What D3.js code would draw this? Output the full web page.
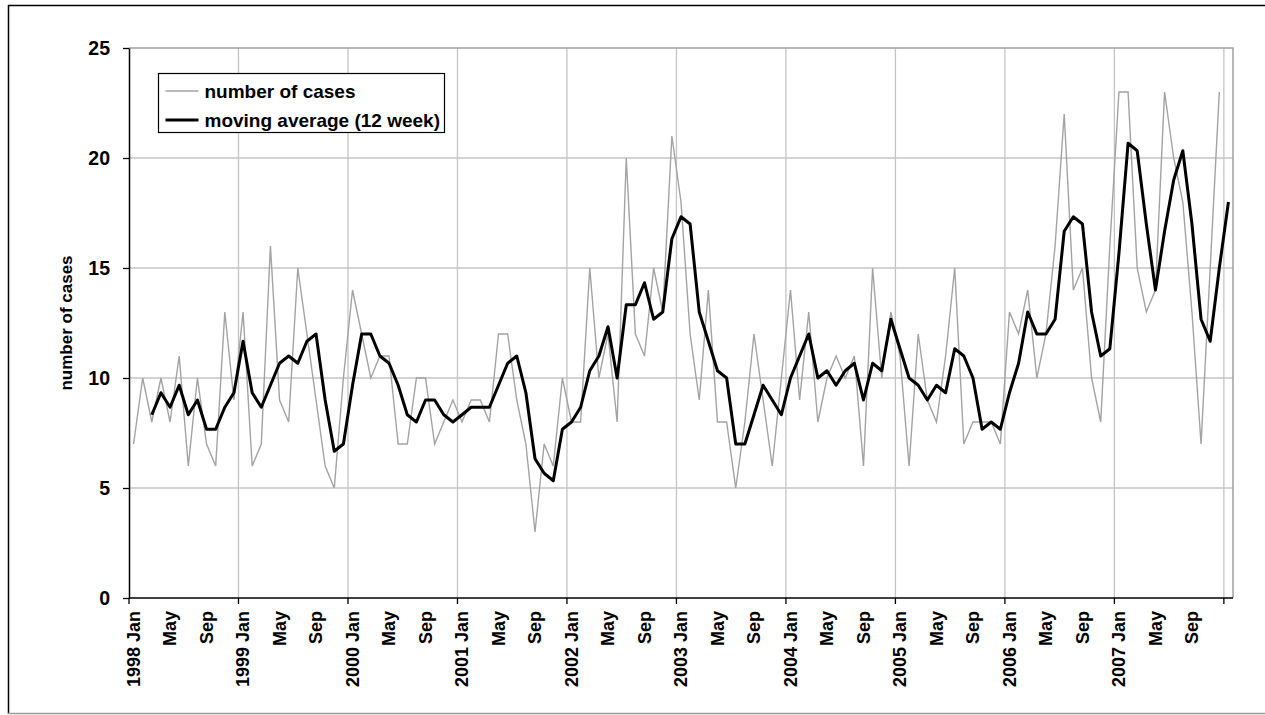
<!DOCTYPE html>
<html>
<head>
<meta charset="utf-8">
<script src="https://cdn.jsdelivr.net/npm/d3@7/dist/d3.min.js"></script>
<style>
  body { margin: 0; background: #fff; }
  text { font-family: 'Liberation Sans', Arial, sans-serif; font-weight: bold; fill: #000; }
</style>
</head>
<body>
<svg id="chart" width="1265" height="715"></svg>
<script>
// monthly counts, 1998 Jan .. 2007 Dec
const cases = [
  7, 10, 8, 10, 8, 11, 6, 10, 7, 6, 13, 9,
  13, 6, 7, 16, 9, 8, 15, 12, 9, 6, 5, 10,
  14, 12, 10, 11, 11, 7, 7, 10, 10, 7, 8, 9,
  8, 9, 9, 8, 12, 12, 9, 7, 3, 7, 6, 10,
  8, 8, 15, 10, 12, 8, 20, 12, 11, 15, 13, 21,
  18, 12, 9, 14, 8, 8, 5, 8, 12, 9, 6, 10,
  14, 9, 13, 8, 10, 11, 10, 11, 6, 15, 10, 13,
  11, 6, 12, 9, 8, 11, 15, 7, 8, 8, 8, 7,
  13, 12, 14, 10, 12, 16, 22, 14, 15, 10, 8, 16,
  23, 23, 15, 13, 14, 23, 20, 18, 13, 7, 15, 23
]

// moving average (starts at 1998 Mar, runs to 2008 Jan)
const movingAvg = [
  null, null, 8.33, 9.33, 8.67, 9.67, 8.33, 9.0, 7.67, 7.67, 8.67, 9.33,
  11.67, 9.33, 8.67, 9.67, 10.67, 11.0, 10.67, 11.67, 12.0, 9.0, 6.67, 7.0,
  9.67, 12.0, 12.0, 11.0, 10.67, 9.67, 8.33, 8.0, 9.0, 9.0, 8.33, 8.0,
  8.33, 8.67, 8.67, 8.67, 9.67, 10.67, 11.0, 9.33, 6.33, 5.67, 5.33, 7.67,
  8.0, 8.67, 10.33, 11.0, 12.33, 10.0, 13.33, 13.33, 14.33, 12.67, 13.0, 16.33,
  17.33, 17.0, 13.0, 11.67, 10.33, 10.0, 7.0, 7.0, 8.33, 9.67, 9.0, 8.33,
  10.0, 11.0, 12.0, 10.0, 10.33, 9.67, 10.33, 10.67, 9.0, 10.67, 10.33, 12.67,
  11.33, 10.0, 9.67, 9.0, 9.67, 9.33, 11.33, 11.0, 10.0, 7.67, 8.0, 7.67,
  9.33, 10.67, 13.0, 12.0, 12.0, 12.67, 16.67, 17.33, 17.0, 13.0, 11.0, 11.33,
  15.67, 20.67, 20.33, 17.0, 14.0, 16.67, 19.0, 20.33, 17.0, 12.67, 11.67, 15.0,
  18.0
]

const tickLabels = [
  '1998 Jan', 'May', 'Sep', '1999 Jan', 'May', 'Sep', '2000 Jan', 'May', 'Sep',
  '2001 Jan', 'May', 'Sep', '2002 Jan', 'May', 'Sep', '2003 Jan', 'May', 'Sep',
  '2004 Jan', 'May', 'Sep', '2005 Jan', 'May', 'Sep', '2006 Jan', 'May', 'Sep',
  '2007 Jan', 'May', 'Sep'
]
const yTicks = [0, 5, 10, 15, 20, 25]
const legendItems = ['number of cases', 'moving average (12 week)']

const svg = d3.select('#chart')
const plotLeft = 129
const plotRight = 1233
const plotTop = 48
const plotBottom = 598
const nCats = movingAvg.length

const x = d3.scaleBand().domain(d3.range(nCats)).range([plotLeft, plotRight])
const xMid = i => x(i) + x.bandwidth() / 2
const y = d3.scaleLinear().domain([0, 25]).range([plotBottom, plotTop])

// outer frame
svg.append('line').attr('x1', 8).attr('x2', 1265).attr('y1', 5.5).attr('y2', 5.5)
  .attr('stroke', '#000').attr('stroke-width', 1.5)
svg.append('line').attr('x1', 8.5).attr('x2', 8.5).attr('y1', 5).attr('y2', 714)
  .attr('stroke', '#000').attr('stroke-width', 1.5)
svg.append('line').attr('x1', 8).attr('x2', 1265).attr('y1', 713.5).attr('y2', 713.5)
  .attr('stroke', '#999').attr('stroke-width', 1.5)

// grid
const yearStarts = d3.range(12, nCats, 12)
svg.append('g').selectAll('line')
  .data(yTicks.filter(d => d > 0 && d < 25))
  .join('line')
  .attr('x1', plotLeft).attr('x2', plotRight)
  .attr('y1', d => y(d)).attr('y2', d => y(d))
  .attr('stroke', '#c4c4c4').attr('stroke-width', 1.3)
svg.append('g').selectAll('line')
  .data(yearStarts)
  .join('line')
  .attr('x1', d => x(d)).attr('x2', d => x(d))
  .attr('y1', plotTop).attr('y2', plotBottom)
  .attr('stroke', '#c4c4c4').attr('stroke-width', 1.3)

// plot area border (top and right)
svg.append('path')
  .attr('d', `M${plotLeft},${plotTop}H${plotRight}V${plotBottom}`)
  .attr('fill', 'none').attr('stroke', '#a0a0a0').attr('stroke-width', 1.5)

// series
const line = d3.line()
  .defined(d => d.v != null)
  .x(d => xMid(d.i))
  .y(d => y(d.v))

svg.append('path')
  .datum(cases.map((v, i) => ({ i, v })))
  .attr('d', line)
  .attr('fill', 'none').attr('stroke', '#a3a3a3').attr('stroke-width', 1.4)

svg.append('path')
  .datum(movingAvg.map((v, i) => ({ i, v })))
  .attr('d', line)
  .attr('fill', 'none').attr('stroke', '#000').attr('stroke-width', 3)
  .attr('stroke-linejoin', 'round')

// y axis
const yAxis = svg.append('g')
  .attr('transform', `translate(${plotLeft},0)`)
  .call(d3.axisLeft(y).tickValues(yTicks).tickSize(6).tickPadding(13).tickSizeOuter(0))
yAxis.select('.domain').attr('stroke', '#000').attr('stroke-width', 1.5)
yAxis.selectAll('.tick line').attr('stroke', '#000').attr('stroke-width', 1.3)
yAxis.attr('font-family', null).attr('font-size', null)
yAxis.selectAll('text').style('font-size', '19.5px').attr('fill', '#000')

// x axis line + year ticks
svg.append('line').attr('x1', plotLeft).attr('x2', plotRight)
  .attr('y1', plotBottom).attr('y2', plotBottom)
  .attr('stroke', '#000').attr('stroke-width', 1.5)
svg.append('g').selectAll('line')
  .data([0].concat(yearStarts))
  .join('line')
  .attr('x1', d => x(d)).attr('x2', d => x(d))
  .attr('y1', plotBottom).attr('y2', plotBottom + 6)
  .attr('stroke', '#000').attr('stroke-width', 1.3)

// x labels, one every 4 months, rotated
svg.append('g').selectAll('text')
  .data(tickLabels)
  .join('text')
  .attr('transform', (d, k) => `translate(${xMid(k * 4)},${plotBottom + 13}) rotate(-90)`)
  .attr('text-anchor', 'end')
  .attr('dy', '0.35em')
  .style('font-size', '18px')
  .text(d => d)

// y title
svg.append('text')
  .attr('transform', `translate(66,${(plotTop + plotBottom) / 2}) rotate(-90)`)
  .attr('text-anchor', 'middle')
  .attr('dy', '0.35em')
  .style('font-size', '17px')
  .text('number of cases')

// legend
const legend = svg.append('g').attr('transform', 'translate(158.5,73.5)')
legend.append('rect')
  .attr('width', 286).attr('height', 59)
  .attr('fill', '#fff').attr('stroke', '#000').attr('stroke-width', 1.2)
legend.selectAll('line')
  .data(legendItems)
  .join('line')
  .attr('x1', 7).attr('x2', 40)
  .attr('y1', (d, k) => 17.5 + k * 29).attr('y2', (d, k) => 17.5 + k * 29)
  .attr('stroke', (d, k) => k ? '#000' : '#a3a3a3')
  .attr('stroke-width', (d, k) => k ? 3 : 1.4)
legend.selectAll('text')
  .data(legendItems)
  .join('text')
  .attr('x', 46)
  .attr('y', (d, k) => 17.5 + k * 29)
  .attr('dy', '0.35em')
  .style('font-size', '19px')
  .text(d => d)
</script>
</body>
</html>
